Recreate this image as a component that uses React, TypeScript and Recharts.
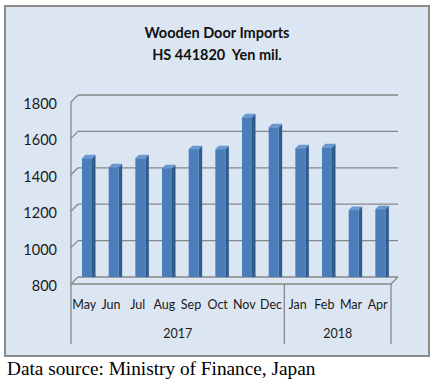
import { BarChart, Bar, XAxis, YAxis, CartesianGrid } from 'recharts';

const months = ['May', 'Jun', 'Jul', 'Aug', 'Sep', 'Oct', 'Nov', 'Dec', 'Jan', 'Feb', 'Mar', 'Apr'];
const years = ['2017', '2017', '2017', '2017', '2017', '2017', '2017', '2017', '2018', '2018', '2018', '2018'];
const imports = [1480, 1430, 1480, 1425, 1530, 1530, 1705, 1650, 1535, 1540, 1195, 1200];
const yTicks = [800, 1000, 1200, 1400, 1600, 1800];

const data = months.map((m, i) => ({ month: m, year: years[i], value: imports[i] }));

// year groups (start / end index) for the second label row
const groups: { year: string; s: number; e: number }[] = [];
years.forEach((y, i) => {
  const last = groups[groups.length - 1];
  if (last && last.year === y) last.e = i;
  else groups.push({ year: y, s: i, e: i });
});

const CHART_W = 422;
const CHART_H = 348;
const MARGIN = { top: 88, right: 30, left: 12, bottom: 18 };
const Y_W = 60;
const X_H = 60;
const PLOT_W = CHART_W - MARGIN.left - Y_W - MARGIN.right;
const PLOT_H = CHART_H - MARGIN.top - MARGIN.bottom - X_H;
const BAND = PLOT_W / months.length;
const DEPTH = 7;
const GRID = '#878787';
const FONT = 'Lato, "Open Sans", sans-serif';

function YTick(props: any) {
  const { x, y, payload } = props;
  return (
    <g>
      <text x={x - 21} y={y + 9} dy="0.35em" textAnchor="end" fontSize={14.5} fill="#1a1a1a" fontFamily={FONT}>
        {payload.value}
      </text>
      <line x1={x - DEPTH} y1={y + DEPTH} x2={x} y2={y} stroke={GRID} strokeWidth={1.3} />
      {payload.value === yTicks[0] && (
        <line x1={x - DEPTH} y1={y + DEPTH} x2={x - DEPTH} y2={y + DEPTH - PLOT_H} stroke={GRID} strokeWidth={1.3} />
      )}
    </g>
  );
}

function XTick(props: any) {
  const { x, y, payload, index } = props;
  const fx = x - DEPTH;
  const fy = y + DEPTH;
  const left = fx - BAND / 2;
  const right = fx + BAND / 2;
  const parts: any[] = [];
  if (index === 0) {
    parts.push(
      <polyline
        key="floor"
        points={`${left},${fy} ${left + PLOT_W},${fy} ${left + PLOT_W + DEPTH},${y}`}
        fill="none"
        stroke={GRID}
        strokeWidth={1.3}
      />
    );
  }
  groups.forEach((g, gi) => {
    if (index === g.s) {
      parts.push(<line key={'s' + gi} x1={left} y1={fy} x2={left} y2={fy + 60} stroke={GRID} strokeWidth={1.3} />);
    }
    if (index === g.e && gi === groups.length - 1) {
      parts.push(<line key={'e' + gi} x1={right} y1={fy} x2={right} y2={fy + 60} stroke={GRID} strokeWidth={1.3} />);
    }
    const c = (g.s + g.e) / 2;
    if (index === Math.floor(c)) {
      parts.push(
        <text key={'y' + gi} x={fx + (c - Math.floor(c)) * BAND} y={y + 57} dy="0.35em" textAnchor="middle" fontSize={12.5} fill="#1a1a1a" fontFamily={FONT}>
          {g.year}
        </text>
      );
    }
  });
  return (
    <g>
      {parts}
      <text x={fx} y={y + 28} dy="0.35em" textAnchor="middle" fontSize={12.5} fill="#1a1a1a" fontFamily={FONT}>
        {payload.value}
      </text>
    </g>
  );
}

function Bar3D(props: any) {
  const { x, y, height } = props;
  const fw = 10;
  const d = 3.5;
  const x0 = x - 3;
  const y0 = y + 5;
  const h = height;
  return (
    <g>
      <polygon points={`${x0 + fw},${y0} ${x0 + fw + d},${y0 - d} ${x0 + fw + d},${y0 + h - d} ${x0 + fw},${y0 + h}`} fill="#2f5b8f" />
      <polygon points={`${x0},${y0} ${x0 + d},${y0 - d} ${x0 + fw + d},${y0 - d} ${x0 + fw},${y0}`} fill="#6a98cf" />
      <rect x={x0} y={y0} width={fw} height={h} fill="#4a7ebb" />
    </g>
  );
}

export default function App() {
  return (
    <div style={{ position: 'absolute', left: 0, top: 0, width: 437, height: 383, background: '#fff' }}>
      <div
        style={{
          position: 'absolute',
          left: 4,
          top: 5,
          width: CHART_W,
          height: CHART_H,
          border: '2px solid #8c8c8c',
          background: '#dce6f2',
        }}
      >
        <div
          style={{
            position: 'absolute',
            left: 0,
            width: CHART_W,
            top: 15,
            textAlign: 'center',
            fontFamily: FONT,
            fontWeight: 'bold',
            fontSize: 14.5,
            lineHeight: '22px',
            color: '#111',
          }}
        >
          <div>Wooden Door Imports</div>
          <div>HS 441820&nbsp; Yen mil.</div>
        </div>
        <BarChart width={CHART_W} height={CHART_H} data={data} margin={MARGIN}>
          <CartesianGrid vertical={false} stroke={GRID} strokeWidth={1.3} />
          <XAxis
            dataKey="month"
            interval={0}
            height={X_H}
            axisLine={false}
            tickLine={false}
            tickSize={0}
            tickMargin={0}
            tick={<XTick />}
          />
          <YAxis
            domain={[800, 1800]}
            ticks={yTicks}
            interval={0}
            width={Y_W}
            axisLine={false}
            tickLine={false}
            tickSize={0}
            tickMargin={0}
            allowDataOverflow
            tick={<YTick />}
          />
          <Bar dataKey="value" barSize={13} shape={<Bar3D />} isAnimationActive={false} />
        </BarChart>
      </div>
      <div
        style={{
          position: 'absolute',
          left: 7,
          top: 358,
          fontFamily: '"Liberation Serif", serif',
          fontSize: 19.3,
          color: '#000',
          whiteSpace: 'nowrap',
        }}
      >
        Data source: Ministry of Finance, Japan
      </div>
    </div>
  );
}
